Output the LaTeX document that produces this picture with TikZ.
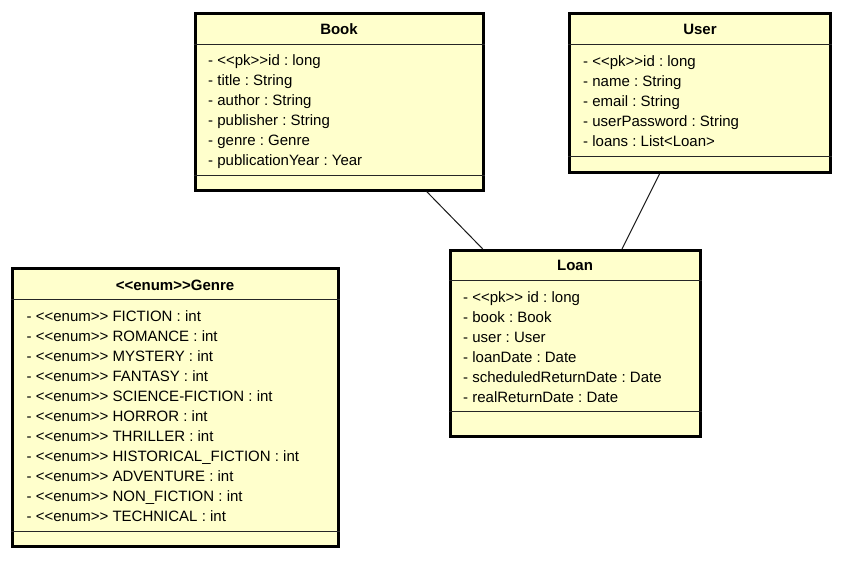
\documentclass[tikz,border=0pt]{standalone}
\usepackage{fontspec}
\setmainfont{Liberation Sans}
\frenchspacing
\definecolor{classfill}{RGB}{255,255,204}
\tikzset{
  classbox/.style={draw=black, line width=3pt, fill=classfill, rectangle, inner sep=0pt},
  sepline/.style={draw=black!85, line width=0.9pt},
  assoc/.style={draw=black!90, line width=1pt},
  ctitle/.style={inner sep=0pt, anchor=base, font=\fontsize{15}{18}\selectfont\bfseries\frenchspacing},
  attr/.style={inner sep=0pt, anchor=base west, font=\fontsize{15}{18}\selectfont\frenchspacing},
}
\begin{document}
\begin{tikzpicture}[x=1pt,y=-1pt]
\useasboundingbox (0,0) rectangle (844,560);
% Boxes
\node[classbox, minimum width=288pt, minimum height=176.5pt] (book) at (339,101.75) {};
\node[classbox, minimum width=261pt, minimum height=159pt] (user) at (700,93) {};
\node[classbox, minimum width=250pt, minimum height=186pt] (loan) at (575,343.5) {};
\node[classbox, minimum width=326pt, minimum height=278pt] (genre) at (175,407.5) {};
% Separators
\draw[sepline] (book.west |- 0,44) -- (book.east |- 0,44);
\draw[sepline] (book.west |- 0,175) -- (book.east |- 0,175);
\draw[sepline] (user.west |- 0,44.5) -- (user.east |- 0,44.5);
\draw[sepline] (user.west |- 0,156) -- (user.east |- 0,156);
\draw[sepline] (loan.west |- 0,280.5) -- (loan.east |- 0,280.5);
\draw[sepline] (loan.west |- 0,411.5) -- (loan.east |- 0,411.5);
\draw[sepline] (genre.west |- 0,299.5) -- (genre.east |- 0,299.5);
\draw[sepline] (genre.west |- 0,531.5) -- (genre.east |- 0,531.5);
% Titles
\node[ctitle] (booktitle) at (339,34.7) {Book};
\node[ctitle] (usertitle) at (700,34.5) {User};
\node[ctitle] (loantitle) at (575,270.7) {Loan};
\node[ctitle] (genretitle) at (175,290.7) {<{}<enum>{}>Genre};
% Attributes
\foreach \t [count=\i from 0] in {{- <{}<pk>{}>id : long},{- title : String},{- author : String},{- publisher : String},{- genre : Genre},{- publicationYear : Year}}
  \node[attr] (booka\i) at (208,65.8+20*\i) {\t};
\foreach \t [count=\i from 0] in {{- <{}<pk>{}>id : long},{- name : String},{- email : String},{- userPassword : String},{- loans : List<Loan>}}
  \node[attr] (usera\i) at (583,66+20*\i) {\t};
\foreach \t [count=\i from 0] in {{- <{}<pk>{}> id : long},{- book : Book},{- user : User},{- loanDate : Date},{- scheduledReturnDate : Date},{- realReturnDate : Date}}
  \node[attr] (loana\i) at (463,302.2+20*\i) {\t};
\foreach \t [count=\i from 0] in {FICTION,ROMANCE,MYSTERY,FANTASY,SCIENCE-FICTION,HORROR,THRILLER,HISTORICAL\_FICTION,ADVENTURE,NON\_FICTION,TECHNICAL}
  \node[attr] (genrea\i) at (26.5,321+20*\i) {- <{}<enum>{}> \t\ : int};
% Associations
\draw[assoc] (book) -- (loan);
\draw[assoc] (user) -- (loan);
\end{tikzpicture}
\end{document}
